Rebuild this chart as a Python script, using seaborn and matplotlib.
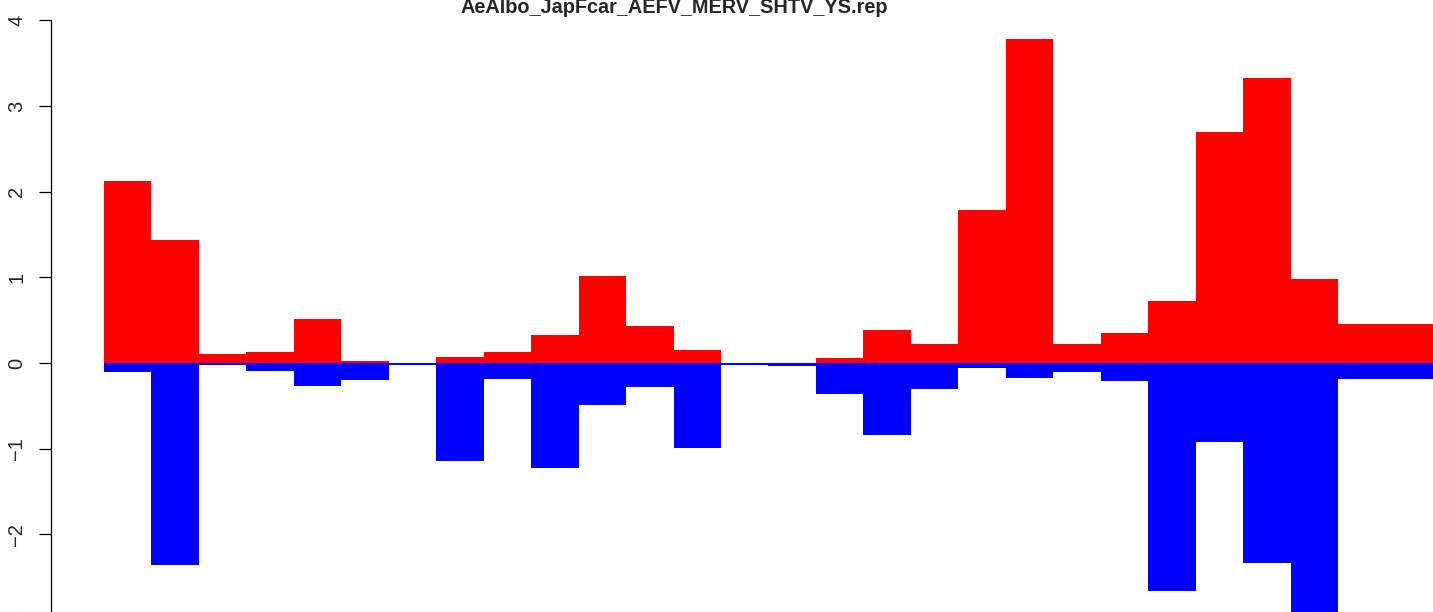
import numpy as np
import pandas as pd
import matplotlib
matplotlib.use('Agg')
import matplotlib.pyplot as plt
import matplotlib.transforms as mtransforms
import seaborn as sns

# Bar values (one positive + one negative part per window)
windows = [str(i) for i in range(1, 29)]
pos_vals = [2.12, 1.43, 0.10, 0.13, 0.51, 0.02, 0.0, 0.07, 0.13, 0.33,
            1.02, 0.43, 0.15, 0.0, 0.0, 0.06, 0.385, 0.225, 1.79, 3.78,
            0.225, 0.35, 0.72, 2.69, 3.32, 0.985, 0.455, 0.455]
neg_vals = [-0.11, -2.36, -0.025, -0.095, -0.27, -0.20, -0.025, -1.14, -0.19, -1.225,
            -0.49, -0.28, -0.99, -0.02, -0.035, -0.36, -0.84, -0.30, -0.058, -0.175,
            -0.105, -0.21, -2.66, -0.92, -2.33, -2.98, -0.183, -0.183]
y_ticks = [-3, -2, -1, 0, 1, 2, 3, 4]
title = 'AeAlbo_JapFcar_AEFV_MERV_SHTV_YS.rep'

df = pd.DataFrame({'window': windows, 'pos': pos_vals, 'neg': neg_vals})

sns.set_style('white')
plt.rcParams['font.family'] = ['Liberation Sans', 'DejaVu Sans']

fig = plt.figure(figsize=(14.33, 6.12), dpi=100)
ax = fig.add_axes([0, 0, 1, 1])

# zero line behind the bars (only over the bar region)
ax.axhline(0, xmin=104 / 1433, xmax=1, color='#aaaaaa', lw=0.8, zorder=0)

sns.barplot(data=df, x='window', y='pos', color='red', saturation=1,
            width=1, linewidth=0, ax=ax, zorder=2)
sns.barplot(data=df, x='window', y='neg', color='blue', saturation=1,
            width=1, linewidth=0, ax=ax, zorder=2)

ax.set_xticks([])
ax.set_xlabel('')
ax.set_ylabel('')
ax.set_yticks(y_ticks)
labels = [str(t).replace('-', '\u2212') for t in y_ticks]
ax.set_yticklabels(labels)

# map data to the cropped picture: bars start at px 104, 47.46 px wide
# (limits set after the ticks, set_yticks would widen them)
bw = 47.46
ax.set_xlim(-0.5 - 104 / bw, -0.5 + (1433 - 104) / bw)
unit = 85.7
zero_px = 363.0
ax.set_ylim(-(612 - zero_px) / unit, zero_px / unit)

axis_x = -0.5 + (50.7 - 104) / bw
for s in ['top', 'right', 'bottom']:
    ax.spines[s].set_visible(False)
ax.spines['left'].set_position(('data', axis_x))
ax.spines['left'].set_bounds(-3, 4)
ax.spines['left'].set_linewidth(0.9)
ax.spines['left'].set_color('black')
tick_len, tick_pad, lab_size = 8.6, 9, 14.5
ax.tick_params(axis='y', left=True, length=tick_len, width=0.9, color='black',
               labelsize=lab_size, labelrotation=90, pad=tick_pad)
for lab in ax.get_yticklabels():
    lab.set_va('center')

# the -3 tick sits just below the cropped edge: draw its label by hand
off = mtransforms.offset_copy(ax.transData, fig=fig, x=-(tick_len + tick_pad), y=0,
                              units='points')
ax.text(axis_x, y_ticks[0], labels[0], transform=off, rotation=90,
        ha='right', va='center', fontsize=lab_size, clip_on=False)

fig.text(674.7 / 1433, (612 - 12.7) / 612, title, ha='center', va='baseline',
         fontsize=14.3, fontweight='bold')

fig.savefig('out.png', dpi=100)
